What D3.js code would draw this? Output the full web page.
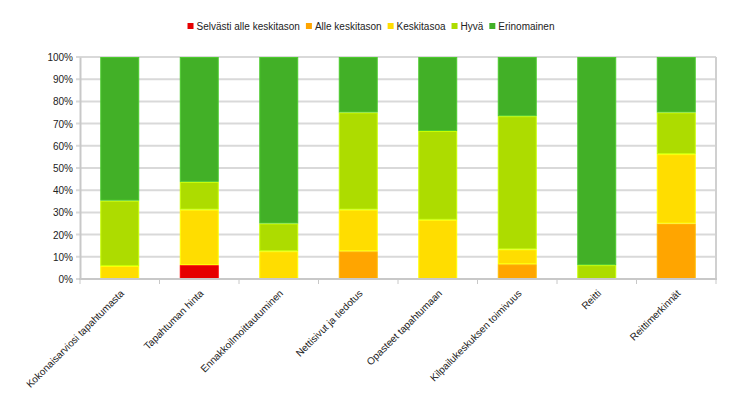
<!DOCTYPE html>
<html>
<head>
<meta charset="utf-8">
<script src="https://cdn.jsdelivr.net/npm/d3@7"></script>
<style>
  body { margin: 0; background: #fff; }
  text { font-family: "Liberation Sans", Arial, sans-serif; fill: #222; }
</style>
</head>
<body>
<svg id="chart" width="742" height="399"></svg>
<script>
var categories = [
  'Kokonaisarviosi tapahtumasta',
  'Tapahtuman hinta',
  'Ennakkoilmoittautuminen',
  'Nettisivut  ja tiedotus',
  'Opasteet tapahtumaan',
  'Kilpailukeskuksen toimivuus',
  'Reitti',
  'Reittimerkinnät'
];
var seriesNames = ['Selvästi alle keskitason', 'Alle keskitason', 'Keskitasoa', 'Hyvä', 'Erinomainen'];
var seriesColors = ['#e60000', '#ffa500', '#ffdd00', '#addc00', '#42b027'];

// percent per category, bottom to top
var selvastiAlle = [0, 6.25, 0, 0, 0, 0, 0, 0];
var alle = [0, 0, 0, 12.5, 0, 6.67, 0, 25];
var keskitasoa = [5.88, 25, 12.5, 18.75, 26.67, 6.67, 0, 31.25];
var hyva = [29.41, 12.5, 12.5, 43.75, 40, 60, 6.25, 18.75];
var erinomainen = [64.71, 56.25, 75, 25, 33.33, 26.67, 93.75, 25];

var yTicks = [0, 10, 20, 30, 40, 50, 60, 70, 80, 90, 100];

var margin = {left: 80, right: 26, top: 57, bottom: 120};
var width = 742, height = 399;
var svg = d3.select('#chart');

var x = d3.scaleBand().domain(categories).range([margin.left, width - margin.right]).paddingInner(0).paddingOuter(0);
var y = d3.scaleLinear().domain([0, 100]).range([height - margin.bottom, margin.top]);

var rows = categories.map(function(c, i) {
  return {cat: c, s0: selvastiAlle[i], s1: alle[i], s2: keskitasoa[i], s3: hyva[i], s4: erinomainen[i]};
});
var stack = d3.stack().keys(['s0', 's1', 's2', 's3', 's4']);
var layers = stack(rows);

// gridlines (with small outward ticks)
svg.append('g').selectAll('line').data(yTicks).enter().append('line')
  .attr('x1', margin.left - 4).attr('x2', width - margin.right)
  .attr('y1', function(d) { return y(d); }).attr('y2', function(d) { return y(d); })
  .attr('stroke', '#d9d9d9').attr('stroke-width', 2);

// right border
svg.append('line')
  .attr('x1', width - margin.right).attr('x2', width - margin.right)
  .attr('y1', y(100)).attr('y2', y(0))
  .attr('stroke', '#d0d0d0').attr('stroke-width', 2);

// bars (thin lighter edge like the original)
var bw = x.bandwidth() * 0.49;
svg.append('g').selectAll('g').data(layers).enter().append('g')
  .attr('fill', function(d, i) { return seriesColors[i]; })
  .attr('stroke', function(d, i) { return d3.color(seriesColors[i]).brighter(0.4); })
  .attr('stroke-width', 1)
  .selectAll('rect').data(function(d) { return d.filter(function(p) { return p[1] > p[0]; }); }).enter().append('rect')
  .attr('x', function(d) { return x(d.data.cat) + (x.bandwidth() - bw) / 2 + 0.5; })
  .attr('width', bw - 1)
  .attr('y', function(d) { return y(d[1]) + 0.5; })
  .attr('height', function(d) { return y(d[0]) - y(d[1]) - 1; });

// y axis
var yAxis = svg.append('g').attr('transform', 'translate(' + margin.left + ',0)')
  .call(d3.axisLeft(y).tickValues(yTicks).tickSize(0).tickPadding(7).tickFormat(function(d) { return d + '%'; }));
yAxis.select('.domain').attr('stroke', '#c8c8c8').attr('stroke-width', 2);
yAxis.selectAll('text').style('font-size', '10px').attr('dy', '0.35em').attr('fill', '#222');

// x axis
var bounds = x.domain().map(function(c) { return x(c); }).concat([width - margin.right]);
svg.append('line')
  .attr('x1', margin.left - 1).attr('x2', width - margin.right + 1)
  .attr('y1', y(0)).attr('y2', y(0))
  .attr('stroke', '#c8c8c8').attr('stroke-width', 2);
svg.append('g').selectAll('line').data(bounds).enter().append('line')
  .attr('x1', function(d) { return d; }).attr('x2', function(d) { return d; })
  .attr('y1', y(0)).attr('y2', y(0) + 5)
  .attr('stroke', '#c8c8c8').attr('stroke-width', 1);

svg.append('g').selectAll('text').data(categories).enter().append('text')
  .attr('transform', function(d) {
    return 'translate(' + (x(d) + x.bandwidth() / 2 + 5) + ',' + (y(0) + 15) + ') rotate(-45)';
  })
  .attr('text-anchor', 'end')
  .style('font-size', '10px')
  .text(function(d) { return d; });

// legend
var legend = svg.append('g');
var lx = 0;
seriesNames.forEach(function(name, i) {
  var item = legend.append('g').attr('transform', 'translate(' + lx + ',0)');
  item.append('rect').attr('x', 0).attr('y', -7).attr('width', 6).attr('height', 6).attr('fill', seriesColors[i]);
  var t = item.append('text').attr('x', 9).attr('y', 0).style('font-size', '10px').text(name);
  lx += 9 + t.node().getComputedTextLength() + 6;
});
var legendW = lx - 6;
legend.attr('transform', 'translate(' + ((width - legendW) / 2) + ',30)');
</script>
</body>
</html>
